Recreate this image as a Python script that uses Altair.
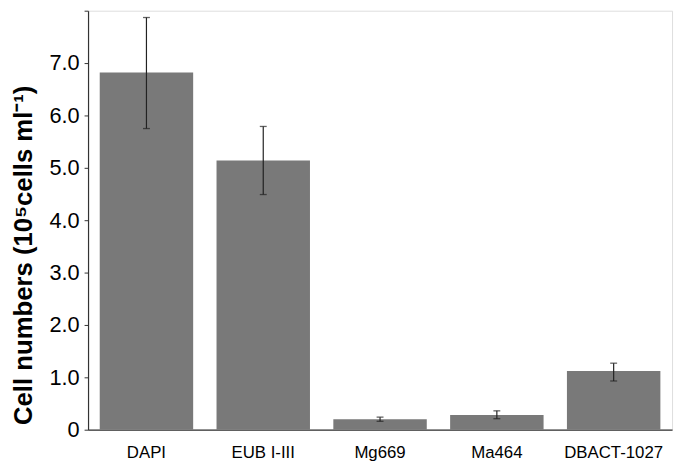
import altair as alt
import pandas as pd

categories = ["DAPI", "EUB I-III", "Mg669", "Ma464", "DBACT-1027"]
means = [6.82, 5.14, 0.20, 0.28, 1.12]
err_low = [5.75, 4.49, 0.16, 0.21, 0.93]
err_high = [7.87, 5.79, 0.24, 0.36, 1.27]
y_ticks = [0, 1, 2, 3, 4, 5, 6, 7, 8]

df = pd.DataFrame({"cat": categories, "mean": means, "lo": err_low, "hi": err_high})

FONT = "Liberation Sans"

x = alt.X(
    "cat:N",
    sort=categories,
    title=None,
    scale=alt.Scale(paddingInner=0.2, paddingOuter=0.1),
    axis=alt.Axis(
        labelAngle=0, ticks=False, domainColor="#333333", domainWidth=1.2,
        labelFontSize=17, labelPadding=15, labelFont=FONT, labelColor="black",
    ),
)

yscale = alt.Scale(domain=[0, 8], nice=False)

bars = alt.Chart(df).mark_bar(color="#797979").encode(
    x=x,
    y=alt.Y(
        "mean:Q",
        scale=yscale,
        title="Cell numbers (10\u2075cells ml\u207b\u00b9)",
        axis=alt.Axis(
            values=y_ticks,
            labelExpr="datum.value == 0 ? '0' : (datum.value == 8 ? '' : format(datum.value, '.1f'))",
            grid=False, tickSize=4, tickColor="#333333", domainColor="#333333", domainWidth=1.2,
            labelFontSize=22, labelFont=FONT, labelColor="black", labelPadding=5,
            titleFontSize=26, titleFont=FONT, titleFontWeight="bold", titleColor="black",
            titleX=-52, titleY=247, titleAlign="center", titleBaseline="bottom", titleAngle=270,
        ),
    ),
)

rule = alt.Chart(df).mark_rule(color="#222222", strokeWidth=1.2).encode(
    x=alt.X("cat:N", sort=categories), y="lo:Q", y2="hi:Q"
)
cap_lo = alt.Chart(df).mark_tick(color="#222222", thickness=1.3, size=7).encode(
    x=alt.X("cat:N", sort=categories), y="lo:Q"
)
cap_hi = alt.Chart(df).mark_tick(color="#222222", thickness=1.3, size=7).encode(
    x=alt.X("cat:N", sort=categories), y="hi:Q"
)

chart = alt.layer(bars, rule, cap_lo, cap_hi).properties(
    width=591, height=424,
    autosize=alt.AutoSizeParams(type="none"),
    padding={"left": 81, "top": 0, "right": 5, "bottom": 34},
).configure_view(stroke=None).configure(background="white")

chart.save("out.html", embed_options={"renderer": "svg", "actions": False})
